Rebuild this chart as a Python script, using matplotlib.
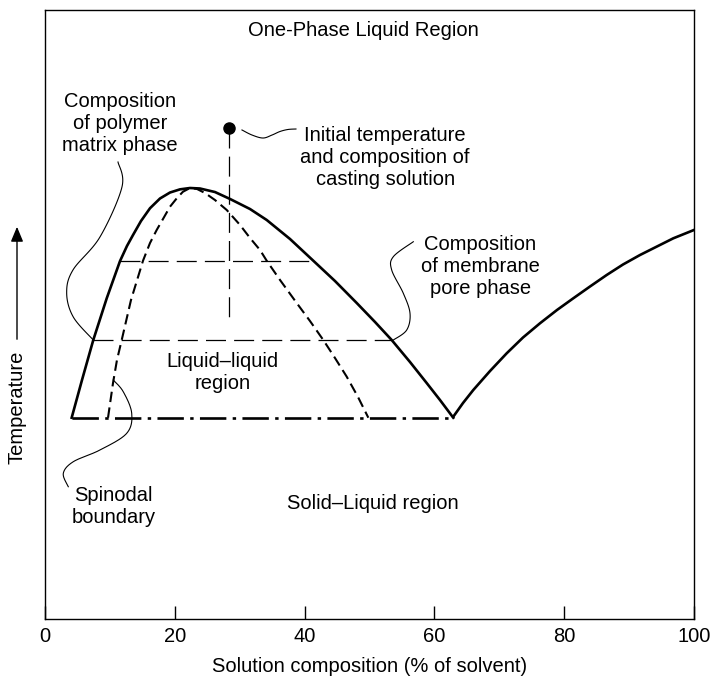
import numpy as np
import matplotlib as mpl
mpl.use('Agg')
from matplotlib import pyplot as plt

plt.rcParams['font.family'] = ['Liberation Sans', 'DejaVu Sans']
plt.rcParams['font.size'] = 14.5

# binodal (solid)
binodal_x = [4.11, 5.70, 7.44, 9.51, 11.56, 12.63, 13.56, 14.79, 16.18, 17.72, 19.26, 20.80, 22.34, 23.88,
             26.19, 28.51, 31.59, 34.16, 37.75, 41.34, 44.68, 48.03, 50.85, 53.42, 56.24, 58.81, 60.86, 62.91]
binodal_y = [33.05, 39.24, 45.81, 52.66, 58.78, 61.25, 63.05, 65.35, 67.45, 69.05, 70.03, 70.55, 70.77, 70.69,
             70.11, 68.97, 67.32, 65.52, 62.40, 58.83, 55.50, 51.89, 48.77, 45.81, 42.20, 38.75, 35.96, 33.05]

# spinodal (dashed)
spinodal_x = [9.71, 10.48, 11.09, 11.82, 13.25, 15.10, 16.18, 17.21, 18.18, 19.26, 20.34, 21.26, 22.34, 23.42,
              24.65, 26.19, 28.00, 30.05, 31.59, 33.13, 34.16, 36.21, 38.78, 40.83, 42.88, 44.68, 46.49, 48.23, 49.82]
spinodal_y = [33.05, 38.75, 42.53, 45.81, 52.38, 58.83, 61.74, 63.88, 65.68, 67.70, 69.13, 70.16, 70.77, 70.61,
              69.95, 68.80, 67.16, 64.70, 62.56, 60.59, 58.83, 55.67, 51.89, 48.93, 45.81, 42.86, 39.79, 36.45, 33.05]

# liquidus on the solvent side
liquidus_x = [62.91, 64.41, 65.99, 68.57, 71.14, 73.65, 76.27, 78.89, 81.40, 83.98, 86.55, 89.06, 91.68, 94.30, 96.81, 100.0]
liquidus_y = [33.22, 35.47, 37.60, 40.72, 43.63, 46.22, 48.56, 50.74, 52.66, 54.60, 56.49, 58.21, 59.77, 61.17, 62.51, 63.88]

# tie lines
tie_upper_x = [11.56, 41.34]
tie_upper_y = [58.8, 58.8]
tie_lower_x = [7.44, 53.42]
tie_lower_y = [45.8, 45.8]

# crystallisation line
solid_x = [4.11, 62.91]
solid_y = [33.05, 33.05]

# initial casting solution
init_x = 28.4
init_y = 80.6
init_drop_y = 49.1

xticks = [0, 20, 40, 60, 80, 100]

# leader lines for the labels
lead_matrix = [(11.25, 75.04), (11.86, 70.94), (8.47, 62.73), (4.31, 57.31), (3.34, 53.53), (4.36, 49.59), (7.44, 45.81)]
lead_init = [(30.35, 80.30), (31.90, 79.47), (33.59, 78.98), (34.98, 79.47), (36.21, 80.05), (37.44, 80.38), (38.67, 80.46)]
lead_pore = [(56.75, 61.95), (53.67, 59.49), (53.42, 57.31), (55.21, 53.48), (56.24, 50.20), (55.73, 47.45), (53.67, 45.81)]
lead_spin = [(10.52, 39.24), (12.06, 37.32), (13.36, 33.78), (12.59, 30.49), (8.47, 27.75), (4.36, 25.83), (2.82, 23.92), (3.59, 21.72)]


def smooth(pts, n=20):
    # catmull-rom through the leader points
    p = np.array(pts, dtype=float)
    p = np.vstack([p[0], p, p[-1]])
    out = []
    for i in range(1, len(p) - 2):
        p0, p1, p2, p3 = p[i - 1], p[i], p[i + 1], p[i + 2]
        for t in np.linspace(0, 1, n, endpoint=False):
            out.append(0.5 * (2 * p1 + (-p0 + p2) * t + (2 * p0 - 5 * p1 + 4 * p2 - p3) * t ** 2
                              + (-p0 + 3 * p1 - 3 * p2 + p3) * t ** 3))
    out.append(p[-2])
    out = np.array(out)
    return out[:, 0], out[:, 1]


fig = plt.figure(figsize=(7.12, 6.76), dpi=100)
ax = fig.add_axes([45 / 712, 57 / 676, 649 / 712, 609 / 676])

ax.plot(binodal_x, binodal_y, color='black', lw=1.9, solid_joinstyle='round')
ax.plot(spinodal_x, spinodal_y, color='black', lw=1.5, dashes=(5, 2.6))
ax.plot(liquidus_x, liquidus_y, color='black', lw=1.9, solid_joinstyle='round')
ax.plot(tie_upper_x, tie_upper_y, color='black', lw=0.9, dashes=(16, 6.5))
ax.plot(tie_lower_x, tie_lower_y, color='black', lw=0.9, dashes=(16, 6.5))
ax.plot(solid_x, solid_y, color='black', lw=1.9, dashes=(10, 2.4, 1.3, 2.4), dash_capstyle='butt')
ax.plot([init_x, init_x], [init_y, init_drop_y], color='black', lw=0.9, dashes=(16, 6.5))
ax.plot([init_x], [init_y], 'o', color='black', markersize=8)

for lead in (lead_matrix, lead_init, lead_pore, lead_spin):
    lx, ly = smooth(lead)
    ax.plot(lx, ly, color='black', lw=0.8)

ax.text(49.0, 96.7, 'One-Phase Liquid Region', ha='center', va='center')
ax.text(11.6, 81.4, 'Composition\nof polymer\nmatrix phase', ha='center', va='center')
ax.text(52.4, 75.7, 'Initial temperature\nand composition of\ncasting solution', ha='center', va='center')
ax.text(67.1, 57.8, 'Composition\nof membrane\npore phase', ha='center', va='center')
ax.text(27.4, 40.5, 'Liquid\u2013liquid\nregion', ha='center', va='center')
ax.text(10.6, 18.5, 'Spinodal\nboundary', ha='center', va='center')
ax.text(50.5, 19.0, 'Solid\u2013Liquid region', ha='center', va='center')

ax.set_xlim(0, 100)
ax.set_ylim(0, 100)
ax.set_xticks(xticks)
ax.set_yticks([])
ax.tick_params(axis='x', direction='in', length=9.5, width=1, pad=6)
for s in ax.spines.values():
    s.set_linewidth(1)
ax.set_xlabel('Solution composition (% of solvent)', labelpad=8)

fig.text(17 / 712, (676 - 407) / 676, 'Temperature', rotation=90, ha='center', va='center')
fig.patches.append(mpl.patches.FancyArrowPatch((17 / 712, (676 - 342) / 676), (17 / 712, (676 - 224) / 676),
                                               transform=fig.transFigure, arrowstyle='-|>,head_length=6,head_width=2.5',
                                               color='black', lw=1, mutation_scale=1.5))

fig.savefig('out.png', dpi=100)
